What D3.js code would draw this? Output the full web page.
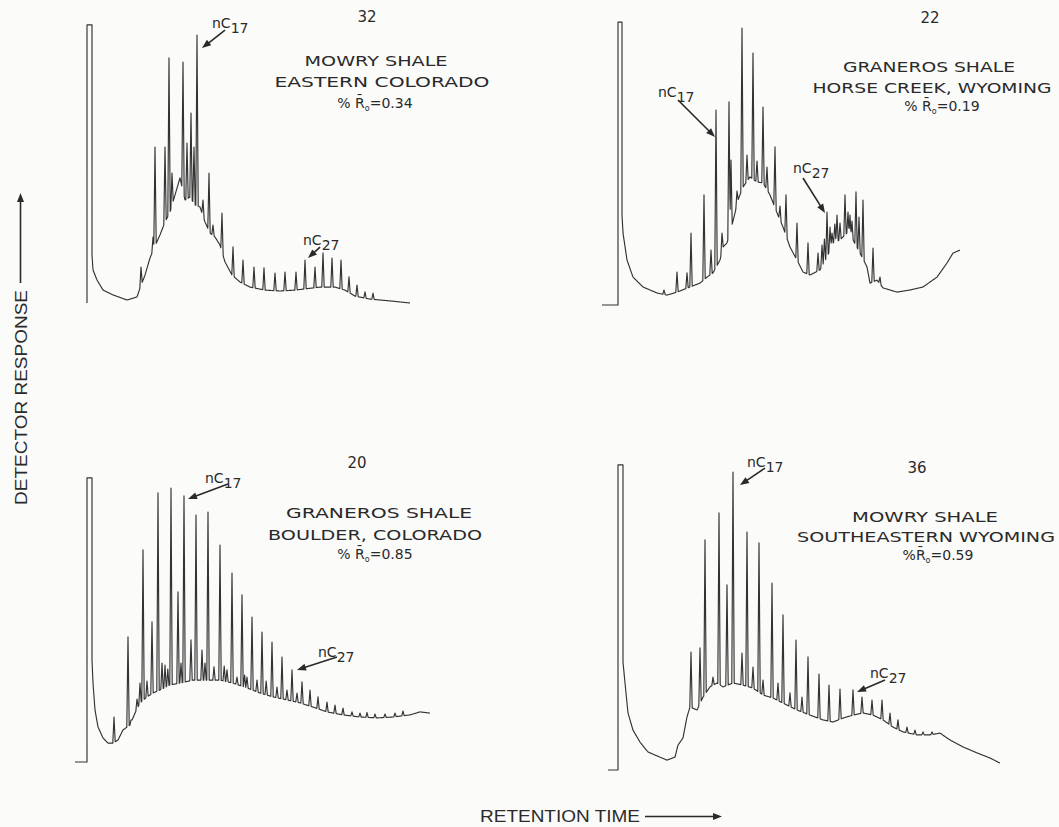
<!DOCTYPE html>
<html>
<head>
<meta charset="utf-8">
<script src="https://cdn.jsdelivr.net/npm/d3@7"></script>
<style>
  body { margin: 0; background: #fbfbfa; }
  svg { display: block; }
  text { fill: #2a2a2a; }
</style>
</head>
<body>
<svg id="chart" width="1059" height="827"></svg>
<script>
// gas chromatograms
// t = retention time (arbitrary units), r = detector response (% of full scale)

// sample 32, Mowry Shale, eastern Colorado
const mowryColoradoSolvent = { lead: 0, width: 1.25, height: 92.7 };
const mowryColoradoBase = [[1.25,16],[1.5,11],[2.5,7.7],[4,4.3],[6.5,2.7],[10,1],[12.5,2],[13.25,5],[14.5,9.3],[15.75,15],[17,19],[18.25,22.7],[19.5,27],[20.75,30.3],[22,36],[23.25,41.7],[24.5,34.3],[25.75,35.3],[27,32.7],[28.25,32],[29.5,27],[30.75,23.3],[32,22],[33.25,19.3],[34.5,13.7],[36.25,9.3],[38.25,7],[40.75,5.3],[44.5,4.3],[48.25,4],[52,4.3],[54.5,4.7],[58.25,5.3],[62,5.3],[64.5,4.3],[67,2.3],[70.75,1.3],[75.75,0.7],[80.75,0]];
const mowryColoradoPeaks = [[13.5,12],[16.5,22],[17,52],[19.5,52],[20.5,81.7],[21.25,43.3],[24,80.3],[25,53.3],[26,63.3],[26.75,52],[27.5,89.3],[29,34.3],[30.5,43.3],[31.5,26],[33.75,30],[36.5,18.7],[39,14.3],[41.75,12],[44.25,11.7],[47,10],[49.5,10.3],[52.25,10.3],[54.5,14.3],[57,12],[59,16.7],[61.25,15],[63.5,14.3],[65.5,8.7],[67.5,6],[69.5,3.7],[71.5,3.3]];

// sample 22, Graneros Shale, Horse Creek, Wyoming
const granerosWyomingSolvent = { lead: 4, width: 1, height: 94.3 };
const granerosWyomingBase = [[1,30],[1.25,24],[2.25,15],[3.75,9.3],[6.25,6],[9.75,4],[12.25,3.3],[14.75,4.3],[18,6],[20.5,7.3],[22.25,9.3],[23.75,10.7],[25.5,15],[26.25,19.3],[27.25,20.7],[28,24],[29.25,30.7],[30,35],[31.25,39.3],[33,42.7],[34.75,41],[36.25,40.7],[38,36.7],[39.75,30.7],[41.25,26],[43,19.3],[44.75,15],[46.25,11],[48,10],[50.5,11.7],[52.25,16],[53.75,20.7],[55.5,21.7],[57.25,24],[58.75,21.7],[60.5,17.3],[62.25,12.7],[63,7.3],[64.75,8.3],[66.25,5.7],[69.75,4.3],[73,5],[76.25,6],[79.75,9.3],[82.25,14],[83.75,17.3],[85.5,18.3]];
const granerosWyomingPeaks = [[11.5,5],[14.75,11],[17.25,10.7],[18.25,24],[21.5,36.7],[23.25,18.3],[24.5,65],[26,24],[27.75,67.7],[28.25,48.3],[29.75,38],[31,92.3],[32.25,50],[33.75,84],[34.75,48],[36.25,66],[37.25,46],[39.25,52.7],[40.5,33],[42,36.7],[44.75,27.3],[47.5,20.7],[50,17.3],[51,20],[51.6,22],[52.25,31],[53,26],[53.5,24],[54.2,27],[54.75,30],[55.5,27.3],[56.75,36.7],[57.5,31],[58,30],[58.5,28],[59.5,37.7],[60.25,29.3],[61.25,35],[63.75,19],[65.5,9.3]];

// sample 20, Graneros Shale, Boulder, Colorado
const granerosColoradoSolvent = { lead: 3, width: 1.25, height: 94.7 };
const granerosColoradoBase = [[1.25,34],[1.5,26.3],[2,17.3],[2.75,11.7],[4,8],[5.25,6.3],[6.5,6.3],[7.75,7.3],[9,10.7],[10.75,12.3],[12,16.3],[13.25,19.7],[15,21.7],[16.5,23],[18.25,24],[20.75,25.7],[23.25,26.3],[26.5,27.3],[30,27.3],[33.25,27.3],[36.5,26.3],[40,24.7],[43.25,23],[46.5,21.7],[50,20.7],[53.25,19.7],[56.5,18.3],[60,16.7],[64,15.7],[68.25,15],[72.5,14.7],[76.5,15],[80.75,15.7],[83.25,16.7],[85.75,16.3]];
const granerosColoradoPeaks = [[6.75,15],[10.25,41.7],[11,14],[12.5,21],[13.25,26.3],[14,70.7],[15,27],[16.25,46.7],[17.75,89.7],[18.75,33],[19.5,32.3],[20.2,31],[21,91.3],[22.75,56.7],[23.5,33],[24.25,88.7],[26,40.7],[27.25,82.3],[28.75,37.3],[29.5,33],[30.25,83.3],[31.75,31.7],[33.25,72.3],[34.3,32],[35,30.7],[36.25,63],[37.5,28.3],[38.75,55.7],[39.4,29],[40,28.3],[41.25,48.3],[42.5,27.3],[43.75,43.3],[44.8,27],[46.25,40],[47.5,25],[48.75,35],[50,24],[51.25,30.7],[52.5,23],[53.75,26.7],[55.75,24],[57.75,21.7],[60,20],[62,19],[64,18],[66.25,16.7],[68.25,16.3],[70,16.5],[72,16],[74.5,16],[77,16.3],[79,17]];

// sample 36, Mowry Shale, southeastern Wyoming
const mowryWyomingSolvent = { lead: 2.5, width: 1.25, height: 101.7 };
const mowryWyomingBase = [[1.25,36],[1.75,29],[2.5,19],[3.75,13.3],[5.5,9.3],[7.5,6],[9.75,4.7],[12.25,3.3],[14.25,4.3],[15,8.3],[16.25,10.7],[17.25,17.7],[18,21],[19.75,20],[21.25,24.3],[23,27.7],[24.75,29],[26.25,27.7],[28.75,29],[31.25,28.3],[33.75,27.3],[36.25,25],[38.75,24],[41.25,22.3],[44.75,20],[48,18.3],[51.25,16.7],[53.75,16],[56.25,17.3],[58.75,18.3],[61.25,19],[63.75,18.3],[66.25,16.7],[68.75,14.3],[71.25,12.7],[74.75,11.7],[78,11.7],[80.5,12.3],[83,10],[86.25,7.7],[89.75,5.7],[93,4],[95.5,2.3]];
const mowryWyomingPeaks = [[18.25,39.3],[20.5,40.7],[21.75,76.7],[23.75,31],[25.25,85.7],[27.25,61.7],[28.75,99.3],[31,39],[32.25,79.3],[33.75,34.3],[35.25,75.7],[36.25,30],[38.5,62.3],[40,29],[41.25,51.7],[43,25.7],[44.5,43.3],[46,24.3],[47.5,37.7],[50.25,32],[52.75,28.3],[55.5,27],[58.75,26.7],[61,24.3],[63.5,23.3],[66,23.3],[68,19],[70,16.7],[72.25,14.3],[74.25,13.3],[76.25,12.7],[78.5,12.7]];

// labels
const sampleNumbers = ["32", "22", "20", "36"];
const formations = ["MOWRY SHALE", "GRANEROS SHALE", "GRANEROS SHALE", "MOWRY SHALE"];
const localities = ["EASTERN COLORADO", "HORSE CREEK, WYOMING", "BOULDER, COLORADO", "SOUTHEASTERN WYOMING"];
const reflectance = ["0.34", "0.19", "0.85", "0.59"];
const nC17Time = [27.5, 24.5, 24.25, 28.75];
const nC27Time = [54.5, 52.25, 51.25, 58.75];

const series = [
  { solvent: mowryColoradoSolvent, base: mowryColoradoBase, peaks: mowryColoradoPeaks },
  { solvent: granerosWyomingSolvent, base: granerosWyomingBase, peaks: granerosWyomingPeaks },
  { solvent: granerosColoradoSolvent, base: granerosColoradoBase, peaks: granerosColoradoPeaks },
  { solvent: mowryWyomingSolvent, base: mowryWyomingBase, peaks: mowryWyomingPeaks }
];

// panel placement and text layout (pixels)
const layout = [
  { x0: 87, y0: 303,
    num: [367, 22], form: [376, 66, 143], loc: [382, 87, 215], ro: [375, 108], pct: "% ",
    a17: { tip: [5, 13], tail: [28, -5], label: [15, -7] },
    a27: { tip: [3, -2], tail: [15, -13], label: [-2, -15] } },
  { x0: 618, y0: 305,
    num: [930, 23], form: [929, 72, 172], loc: [932, 93, 239], ro: [942, 111], pct: "% ",
    a17: { tip: [-1, 27], tail: [-38, -10], label: [-58, -13] },
    a27: { tip: [-2, 1], tail: [-24, -34], label: [-34, -39] } },
  { x0: 87, y0: 762,
    num: [357, 468], form: [379, 518, 186], loc: [375, 540, 214], ro: [375, 559], pct: "% ",
    a17: { tip: [4, 3], tail: [44, -12], label: [21, -13] },
    a27: { tip: [5, 0], tail: [45, -13], label: [26, -13] } },
  { x0: 618, y0: 770,
    num: [917, 473], form: [925, 522, 146], loc: [926, 542, 258], ro: [938, 560], pct: "%",
    a17: { tip: [7, 13], tail: [32, -4], label: [14, -5] },
    a27: { tip: [4, 2], tail: [32, -10], label: [17, -12] } }
];

const svg = d3.select("#chart");
const ink = "#2a2a2a";
const halfWidth = 0.3;

function buildTrace(s) {
  const base = d3.scaleLinear()
    .domain(s.base.map(d => d[0]))
    .range(s.base.map(d => d[1]));
  const spikes = s.peaks.map(([t, r]) => ({ t, h: Math.max(0, r - base(t)) }));
  const t0 = s.base[0][0];
  const t1 = s.base[s.base.length - 1][0];
  let ts = d3.range(t0, t1, 0.1).concat([t1]);
  spikes.forEach(p => ts.push(p.t - halfWidth, p.t, p.t + halfWidth));
  ts = Array.from(new Set(ts.map(t => +t.toFixed(3))))
    .filter(t => t >= t0 && t <= t1)
    .sort(d3.ascending);
  const pts = ts.map(t => [t, base(t) + d3.sum(spikes, p =>
    p.h * Math.max(0, 1 - Math.abs(t - p.t) / halfWidth))]);
  const head = [];
  if (s.solvent.lead) head.push([-s.solvent.lead, 0]);
  head.push([0, 0], [0, s.solvent.height], [s.solvent.width, s.solvent.height]);
  return head.concat(pts);
}

function arrow(g, tail, tip) {
  const dx = tip[0] - tail[0], dy = tip[1] - tail[1];
  const len = Math.hypot(dx, dy);
  const ux = dx / len, uy = dy / len;
  const L = 9, W = 3.5;
  const bx = tip[0] - ux * L, by = tip[1] - uy * L;
  g.append("line")
    .attr("x1", tail[0]).attr("y1", tail[1])
    .attr("x2", bx + ux * 2).attr("y2", by + uy * 2)
    .attr("stroke", ink).attr("stroke-width", 1.6);
  g.append("path")
    .attr("d", `M${tip[0]},${tip[1]}L${bx - uy * W},${by + ux * W}L${bx + uy * W},${by - ux * W}Z`)
    .attr("fill", ink);
}

series.forEach((s, i) => {
  const L = layout[i];
  const x = d3.scaleLinear().domain([0, 100]).range([L.x0, L.x0 + 400]);
  const y = d3.scaleLinear().domain([0, 100]).range([L.y0, L.y0 - 300]);
  const g = svg.append("g");

  const line = d3.line().x(d => x(d[0])).y(d => y(d[1]));
  g.append("path")
    .datum(buildTrace(s))
    .attr("d", line)
    .attr("fill", "none")
    .attr("stroke", "#333")
    .attr("stroke-width", 1.15)
    .attr("stroke-linejoin", "round");

  // n-alkane markers
  [["17", nC17Time[i], L.a17], ["27", nC27Time[i], L.a27]].forEach(([c, t, a]) => {
    const pk = s.peaks.find(p => p[0] === t);
    const px = x(pk[0]), py = y(pk[1]);
    arrow(g, [px + a.tail[0], py + a.tail[1]], [px + a.tip[0], py + a.tip[1]]);
    const tx = g.append("text")
      .attr("x", px + a.label[0]).attr("y", py + a.label[1])
      .attr("font-family", "DejaVu Sans, sans-serif")
      .attr("font-size", 14);
    tx.append("tspan").text("nC");
    tx.append("tspan").attr("dy", 5).attr("font-size", 14).text(c);
  });

  // sample text
  const txt = (pos, str, size, w) => {
    const t = g.append("text")
      .attr("x", pos[0]).attr("y", pos[1])
      .attr("text-anchor", "middle")
      .attr("font-family", "DejaVu Sans, sans-serif")
      .attr("font-size", size)
      .text(str);
    if (w) t.attr("textLength", w).attr("lengthAdjust", "spacingAndGlyphs");
    return t;
  };
  txt(L.num, sampleNumbers[i], 15);
  txt(L.form, formations[i], 14.5, L.form[2]);
  txt(L.loc, localities[i], 14.5, L.loc[2]);
  const ro = g.append("text")
    .attr("x", L.ro[0]).attr("y", L.ro[1])
    .attr("text-anchor", "middle")
    .attr("font-family", "DejaVu Sans, sans-serif")
    .attr("font-size", 14);
  ro.append("tspan").text(L.pct + "R\u0304");
  ro.append("tspan").attr("dy", 3).attr("font-size", 8).text("o");
  ro.append("tspan").attr("dy", -3).text("=" + reflectance[i]);
});

// axis titles
svg.append("text")
  .attr("x", 480).attr("y", 822)
  .attr("font-family", "Liberation Sans, Arial, sans-serif")
  .attr("font-size", 16)
  .attr("textLength", 160).attr("lengthAdjust", "spacingAndGlyphs")
  .text("RETENTION TIME");
arrow(svg, [645, 816.5], [722, 816.5]);

svg.append("text")
  .attr("transform", "translate(27,505) rotate(-90)")
  .attr("font-family", "Liberation Sans, Arial, sans-serif")
  .attr("font-size", 17)
  .attr("textLength", 215).attr("lengthAdjust", "spacingAndGlyphs")
  .text("DETECTOR RESPONSE");
arrow(svg, [20.5, 283], [20.5, 193]);
</script>
</body>
</html>
